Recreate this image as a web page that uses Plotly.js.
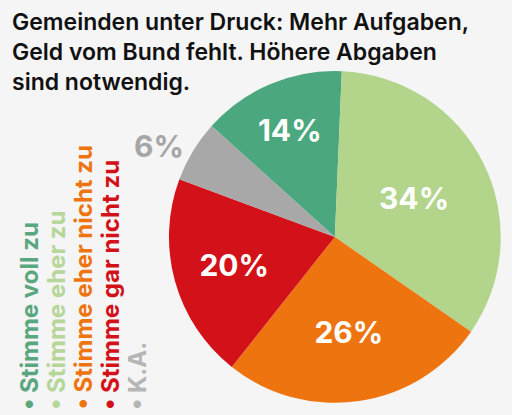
<!DOCTYPE html>
<html>
<head>
<meta charset="utf-8">
<script src="https://cdn.plot.ly/plotly-3.0.1.min.js"></script>
<style>
html,body{margin:0;padding:0;background:#f5f5f5;}
#chart{width:512px;height:415px;}
</style>
</head>
<body>
<div id="chart"></div>
<script>
const categories = ["Stimme voll zu", "Stimme eher zu", "Stimme eher nicht zu", "Stimme gar nicht zu", "K.A."];
const values = [14, 34, 26, 20, 6];
const colors = ["#4aa77e", "#b2d48b", "#ee7410", "#d21119", "#a8a8a8"];
const labelColors = ["#ffffff", "#ffffff", "#ffffff", "#ffffff", "#a6a6a6"];
const legendColors = ["#5aa77f", "#b6d69a", "#ee7410", "#d21119", "#b5b5b5"];
const titleText = "Gemeinden unter Druck: Mehr Aufgaben,<br>Geld vom Bund fehlt. Höhere Abgaben<br>sind notwendig.";

const FONT = "Inter, 'Open Sans', sans-serif";

const trace = {
  type: "pie",
  labels: categories,
  values: values,
  sort: false,
  direction: "clockwise",
  rotation: -48,
  marker: {colors: colors, line: {width: 0}},
  texttemplate: "%{value}%",
  textposition: ["inside", "inside", "inside", "inside", "outside"],
  insidetextorientation: "horizontal",
  textfont: {family: FONT, size: 30, weight: 700, color: labelColors},
  hoverinfo: "label+percent",
  showlegend: false,
  domain: {x: [0.330, 0.978], y: [0.029, 0.829]}
};

const annotations = categories.map((c, i) => ({
  text: "• " + c,
  textangle: -90,
  xref: "paper", yref: "paper",
  x: (29 + i * 27) / 512,
  y: 1 - 412 / 415,
  xanchor: "center", yanchor: "bottom",
  showarrow: false,
  font: {family: FONT, size: 24, weight: 700, color: legendColors[i]}
}));

const layout = {
  width: 512, height: 415,
  margin: {l: 0, r: 0, t: 0, b: 0},
  paper_bgcolor: "#f5f5f5",
  plot_bgcolor: "#f5f5f5",
  title: {
    text: titleText,
    x: 12 / 512, xanchor: "left", xref: "paper",
    y: 1 - 30 / 415, yanchor: "top", yref: "container",
    font: {family: FONT, size: 23, weight: 600, color: "#111111"}
  },
  annotations: annotations
};

Plotly.newPlot("chart", [trace], layout, {displayModeBar: false, staticPlot: true});
</script>
</body>
</html>
